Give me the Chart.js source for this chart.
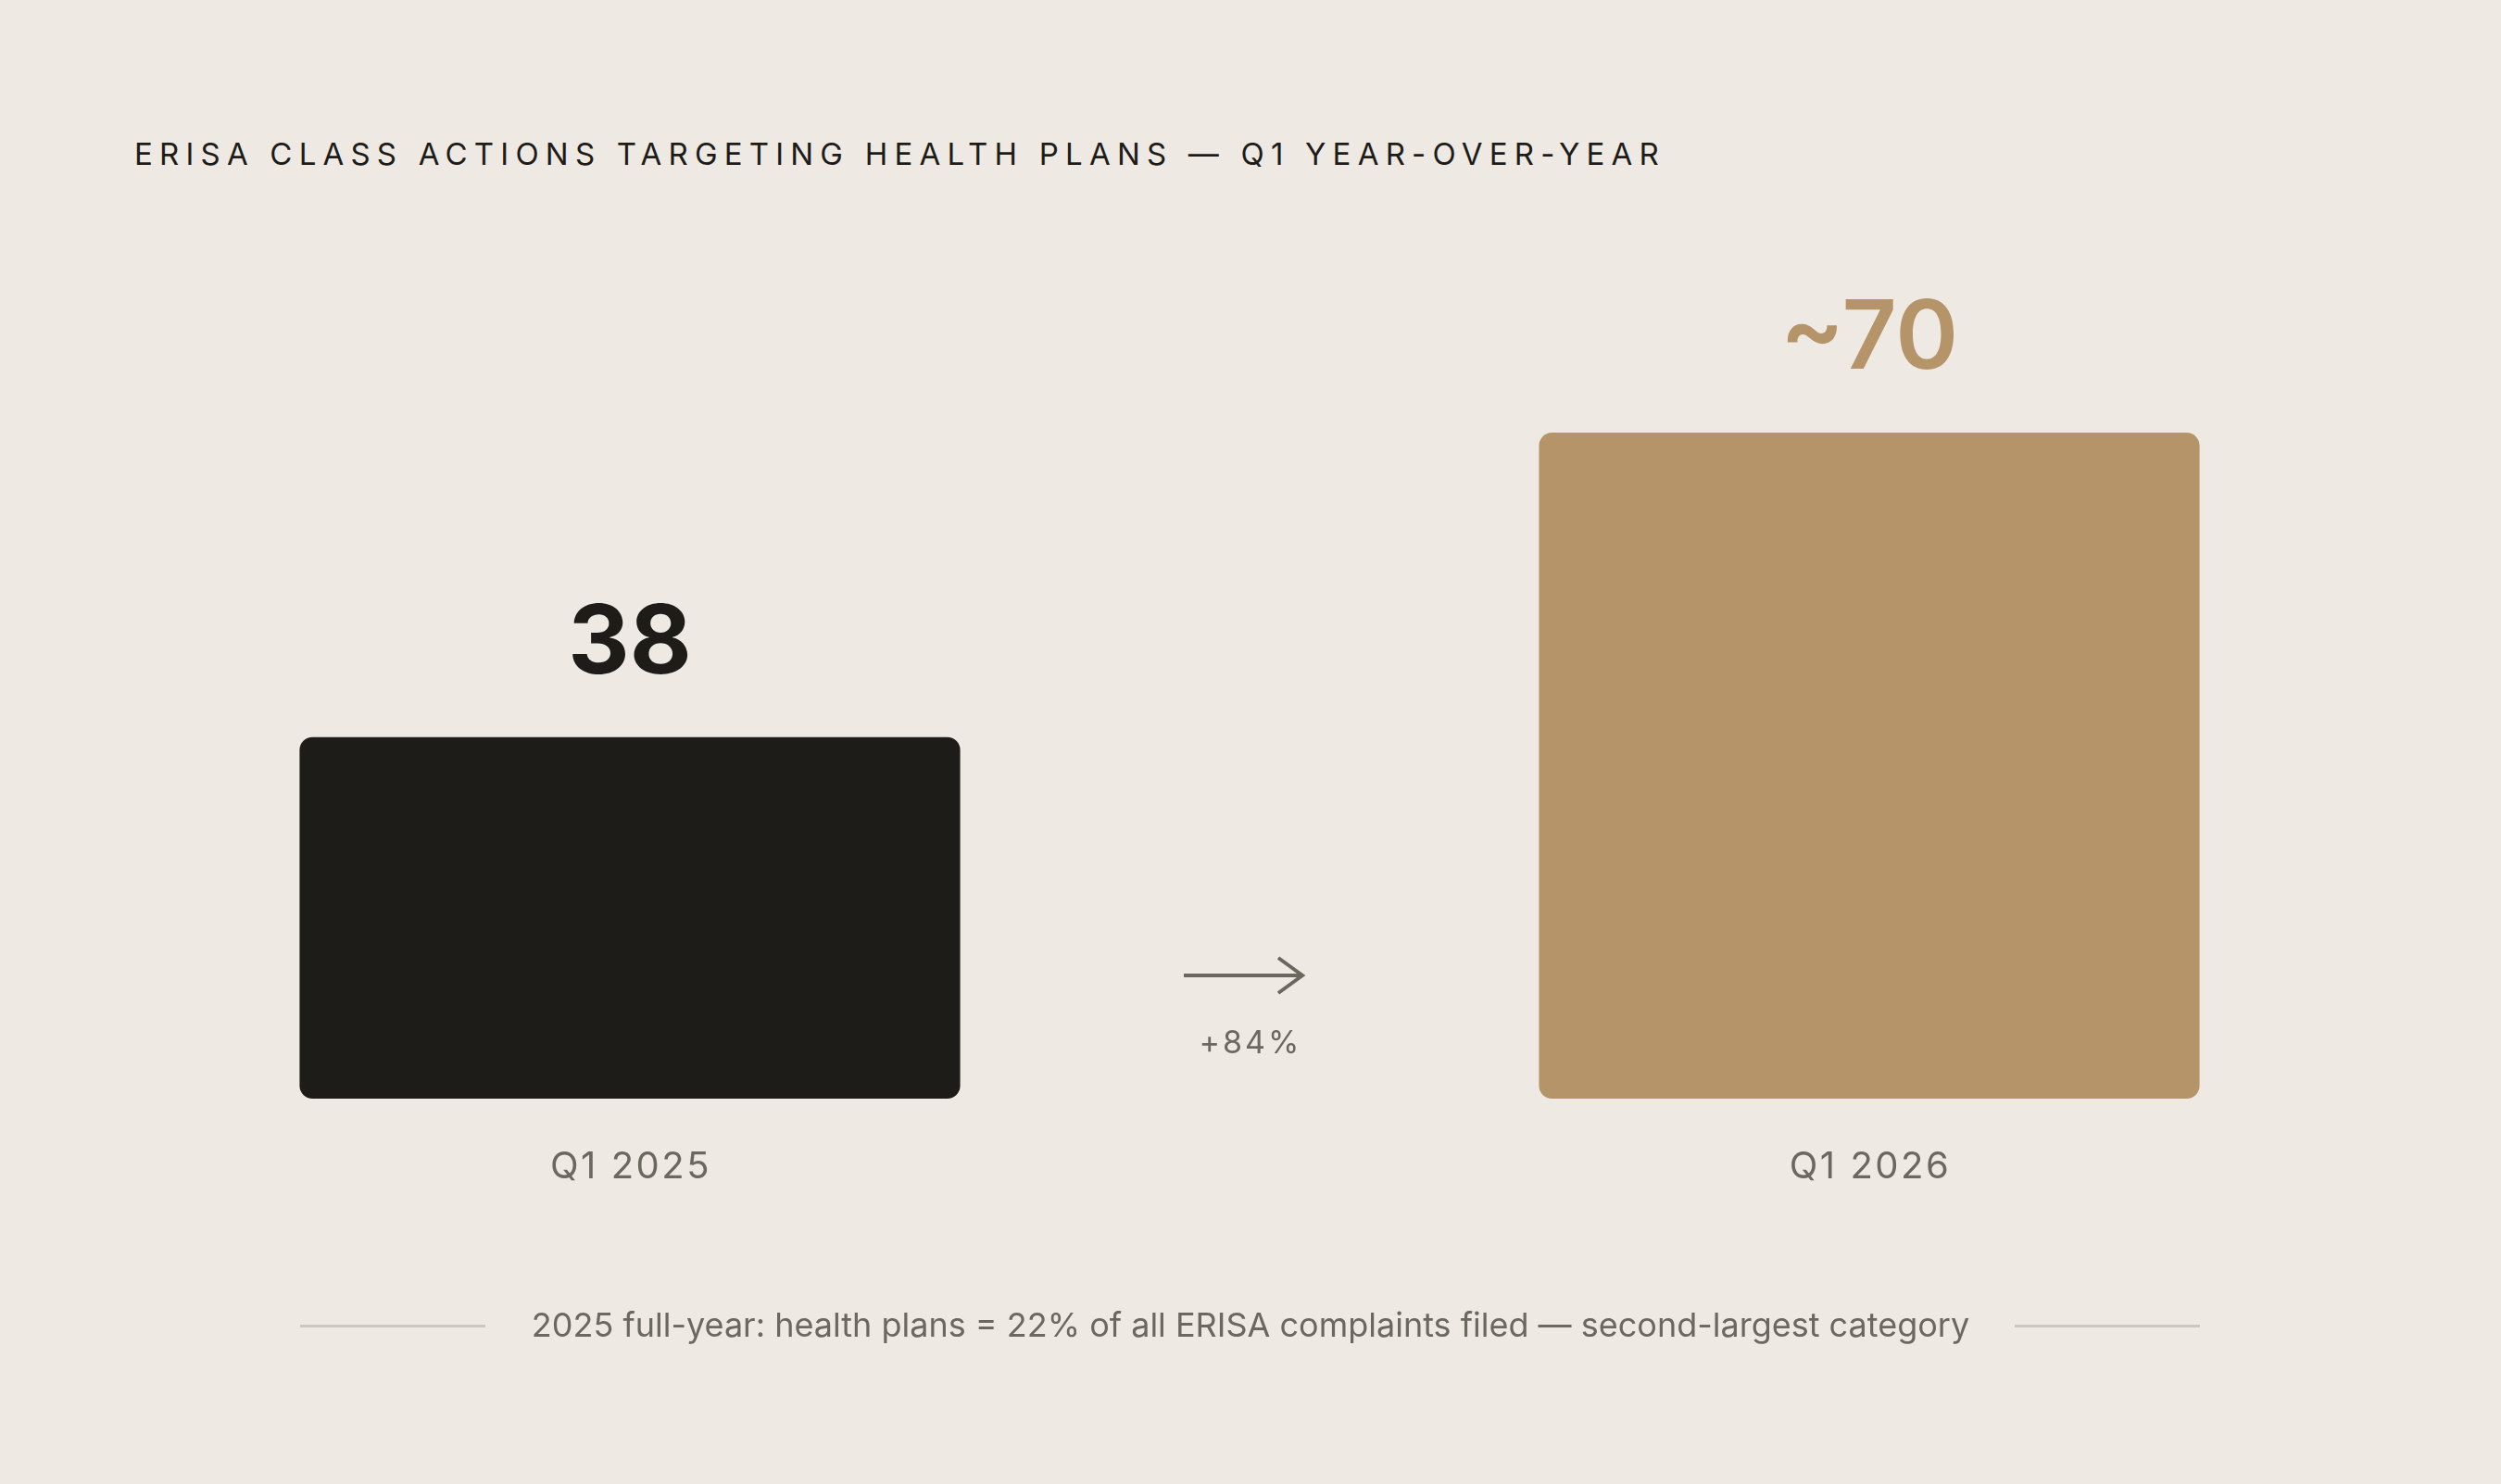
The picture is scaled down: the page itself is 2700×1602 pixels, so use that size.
<!DOCTYPE html>
<html>
<head>
<meta charset="utf-8">
<script src="https://cdn.jsdelivr.net/npm/chart.js@4.4.1/dist/chart.umd.min.js"></script>
<style>
  html, body { margin: 0; padding: 0; background: #eeeae3; }
  body { width: 2700px; height: 1602px; position: relative; overflow: hidden; font-family: Inter, "Noto Sans", sans-serif; }
  #chart { position: absolute; left: 0; top: 0; }
  .title { position: absolute; left: 145px; top: 150px; font-size: 33px; line-height: 1; letter-spacing: 7.2px; color: #1d1c18; white-space: nowrap; }
  .note { position: absolute; left: 0; width: 2700px; top: 1412px; font-size: 36px; line-height: 1; color: #6b6860; text-align: center; white-space: nowrap; }
  .rule { position: absolute; top: 1430px; height: 3px; width: 200px; background: #cdc8bf; }
</style>
</head>
<body>
<div class="title">ERISA CLASS ACTIONS TARGETING HEALTH PLANS — Q1 YEAR-OVER-YEAR</div>
<canvas id="chart" width="2700" height="1602"></canvas>
<div class="rule" style="left:324px"></div>
<div class="rule" style="left:2175px"></div>
<div class="note">2025 full-year: health plans = 22% of all ERISA complaints filed — second-largest category</div>

<script>
// chart data
const categories = ['Q1 2025', 'Q1 2026'];
const complaints = [38, 70];
const valueLabels = ['38', '~70'];
const changeLabel = '+84%';

const barColors = ['#1d1c18', '#b6946a'];
const mutedInk = '#6b6860';

// draws value labels, category labels and the change arrow
const annotate = {
    id: 'annotate',
    afterDatasetsDraw(chart) {
        const ctx = chart.ctx;
        const meta = chart.getDatasetMeta(0);
        const area = chart.chartArea;
        ctx.save();
        ctx.textAlign = 'center';
        ctx.textBaseline = 'alphabetic';

        meta.data.forEach((bar, i) => {
            ctx.fillStyle = barColors[i];
            ctx.font = (i === 0 ? '700' : '600') + ' 103px Inter, sans-serif';
            ctx.letterSpacing = '0px';
            ctx.fillText(valueLabels[i], bar.x, bar.y - 69);

            ctx.fillStyle = mutedInk;
            ctx.font = '400 40px Inter, sans-serif';
            ctx.letterSpacing = '2.5px';
            ctx.fillText(categories[i], bar.x + 1, area.bottom + 86);
        });

        // arrow between the bars
        const mid = (meta.data[0].x + meta.data[1].x) / 2;
        const ay = area.bottom - 133;
        ctx.strokeStyle = mutedInk;
        ctx.lineWidth = 4;
        ctx.beginPath();
        ctx.moveTo(mid - 71, ay);
        ctx.lineTo(mid + 57, ay);
        ctx.moveTo(mid + 31, ay - 19);
        ctx.lineTo(mid + 57, ay);
        ctx.lineTo(mid + 31, ay + 19);
        ctx.stroke();

        ctx.fillStyle = mutedInk;
        ctx.font = '400 34px Inter, sans-serif';
        ctx.letterSpacing = '3px';
        ctx.fillText(changeLabel, mid + 1, area.bottom - 49);
        ctx.restore();
    }
};

new Chart(document.getElementById('chart').getContext('2d'), {
    type: 'bar',
    data: {
        labels: categories,
        datasets: [{
            label: 'ERISA class actions',
            data: complaints,
            backgroundColor: barColors,
            borderRadius: 14,
            borderSkipped: false,
            categoryPercentage: 1,
            barPercentage: 0.533
        }]
    },
    options: {
        responsive: false,
        animation: false,
        layout: { padding: { left: 11, right: 13, top: 159, bottom: 416 } },
        plugins: {
            legend: { display: false },
            tooltip: { enabled: false }
        },
        scales: {
            x: { display: false },
            y: { display: false, min: 0, max: 100 }
        }
    },
    plugins: [annotate]
});
</script>
</body>
</html>
